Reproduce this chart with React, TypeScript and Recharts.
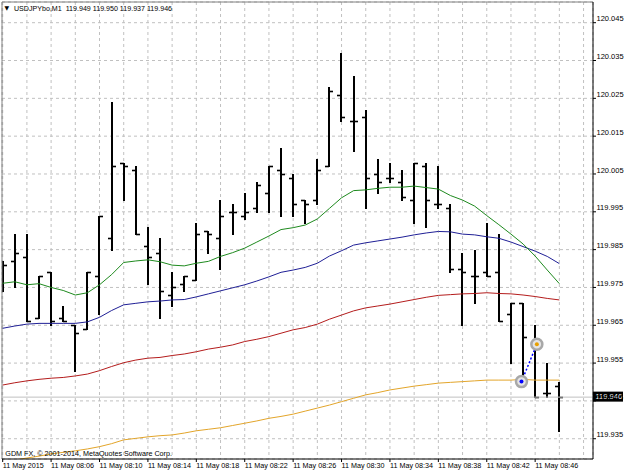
import React from 'react';
import {
  ComposedChart,
  Bar,
  Line,
  XAxis,
  YAxis,
  CartesianGrid,
  ReferenceLine,
  ReferenceDot,
} from 'recharts';

// ---------- DATA ----------
const symbolTitle = 'USDJPYbo,M1';
const lastQuote = '119.949 119.950 119.937 119.946';
const footerText = 'GDM FX, \u00A9 2001-2014, MetaQuotes Software Corp.';

// minute bars 08:02 ... 08:48 (index 0..46)
const barIndex = [
  0, 1, 2, 3, 4, 5, 6, 7, 8, 9, 10, 11, 12, 13, 14, 15, 16, 17, 18, 19, 20, 21, 22, 23,
  24, 25, 26, 27, 28, 29, 30, 31, 32, 33, 34, 35, 36, 37, 38, 39, 40, 41, 42, 43, 44, 45, 46,
];

const opens = [
  119.978, 119.982, 119.983, 119.967, 119.979, 119.967, 119.965, 119.964, 119.978, 119.988,
  120.008, 120.006, 119.986, 119.984, 119.973, 119.976, 119.977, 119.990, 119.988, 119.995,
  119.994, 119.996, 120.000, 120.006, 120.004, 119.998, 119.998, 120.007, 120.026, 120.019,
  120.020, 120.005, 120.004, 120.003, 119.998, 120.007, 119.997, 119.996, 119.980, 119.978,
  119.979, 119.979, 119.968, 119.971, 119.960, 119.947, 119.949,
];
const highs = [
  119.982, 119.989, 119.989, 119.978, 119.979, 119.970, 119.965, 119.979, 119.994, 120.024,
  120.008, 120.007, 119.991, 119.988, 119.979, 119.978, 119.992, 119.990, 119.998, 119.997,
  120.000, 120.003, 120.007, 120.012, 120.005, 119.998, 120.009, 120.028, 120.037, 120.031,
  120.022, 120.009, 120.008, 120.006, 120.008, 120.008, 120.007, 119.997, 119.984, 119.985,
  119.992, 119.989, 119.971, 119.971, 119.965, 119.955, 119.950,
];
const lows = [
  119.974, 119.975, 119.966, 119.967, 119.965, 119.966, 119.953, 119.964, 119.968, 119.985,
  119.998, 119.989, 119.976, 119.967, 119.970, 119.974, 119.977, 119.984, 119.980, 119.989,
  119.993, 119.995, 119.995, 119.994, 119.994, 119.992, 119.997, 120.007, 120.019, 120.011,
  119.996, 120.000, 120.003, 119.998, 119.992, 119.991, 119.996, 119.979, 119.965, 119.971,
  119.978, 119.966, 119.955, 119.950, 119.946, 119.946, 119.937,
];
const closes = [
  119.981, 119.984, 119.966, 119.978, 119.966, 119.966, 119.963, 119.979, 119.994, 120.007,
  120.007, 119.989, 119.983, 119.974, 119.975, 119.978, 119.989, 119.989, 119.994, 119.995,
  119.995, 120.002, 120.007, 120.005, 119.997, 119.997, 120.006, 120.027, 120.020, 120.019,
  120.004, 120.003, 120.004, 119.999, 120.008, 119.998, 119.997, 119.980, 119.979, 119.978,
  119.978, 119.966, 119.971, 119.962, 119.946, 119.947, 119.946,
];

// moving averages
const maGreen = [
  119.9761, 119.9765, 119.9757, 119.976, 119.975, 119.9742, 119.973, 119.9736, 119.9757, 119.9784,
  119.9816, 119.982, 119.9823, 119.9818, 119.9809, 119.9807, 119.9814, 119.9819, 119.9832, 119.9842,
  119.9854, 119.987, 119.9886, 119.9903, 119.9908, 119.9915, 119.9931, 119.9959, 119.9987, 120.0006,
  120.0008, 120.0012, 120.0015, 120.0015, 120.0018, 120.0014, 120.001, 119.9993, 119.9981, 119.9965,
  119.994, 119.9916, 119.9891, 119.9865, 119.9833, 119.9796, 119.976,
];
const maBlue = [
  119.9642, 119.9648, 119.9653, 119.9655, 119.9655, 119.9655, 119.9655, 119.9659, 119.9671, 119.9689,
  119.9704, 119.9708, 119.9712, 119.9714, 119.9717, 119.9718, 119.9725, 119.9733, 119.9741, 119.9749,
  119.9757, 119.9767, 119.9778, 119.979, 119.9796, 119.9803, 119.9814, 119.9833, 119.9847, 119.9862,
  119.9868, 119.9873, 119.9878, 119.9883, 119.9889, 119.9894, 119.9898, 119.9897, 119.9891, 119.9889,
  119.9884, 119.988, 119.987, 119.9858, 119.9846, 119.9832, 119.9813,
];
const maRed = [
  119.9492, 119.9498, 119.9503, 119.9507, 119.951, 119.9512, 119.9516, 119.9521, 119.953, 119.9541,
  119.9551, 119.9558, 119.9563, 119.9565, 119.957, 119.9574, 119.958, 119.9587, 119.9592, 119.9598,
  119.9607, 119.9613, 119.962, 119.9629, 119.9638, 119.9644, 119.9653, 119.9666, 119.9677, 119.9688,
  119.9696, 119.9701, 119.9706, 119.9712, 119.9718, 119.9724, 119.9729, 119.9731, 119.9733, 119.9734,
  119.9736, 119.9734, 119.9733, 119.973, 119.9726, 119.9721, 119.9717,
];
const maOrange = [
  119.9289, 119.9294, 119.9299, 119.9304, 119.931, 119.9314, 119.9318, 119.9323, 119.9329, 119.9337,
  119.9347, 119.9351, 119.9355, 119.9358, 119.936, 119.9365, 119.9371, 119.9375, 119.9379, 119.9385,
  119.9391, 119.9397, 119.9404, 119.9409, 119.9415, 119.9423, 119.9431, 119.9439, 119.9448, 119.9457,
  119.9466, 119.9472, 119.9479, 119.9484, 119.9489, 119.9493, 119.9497, 119.9499, 119.9501, 119.9503,
  119.9505, 119.9505, 119.9505, 119.9507, 119.9505, 119.9505, 119.9505,
];

// axis ticks
const gridBars = [0, 2, 4, 6, 8, 10, 12, 14, 16, 18, 20, 22, 24, 26, 28, 30, 32, 34, 36, 38, 40, 42, 44, 46, 48];
const labelBars = [0, 4, 8, 12, 16, 20, 24, 28, 32, 36, 40, 44];
const labelTexts = [
  '11 May 2015', '11 May 08:06', '11 May 08:10', '11 May 08:14', '11 May 08:18', '11 May 08:22',
  '11 May 08:26', '11 May 08:30', '11 May 08:34', '11 May 08:38', '11 May 08:42', '11 May 08:46',
];
const priceTicks = [
  119.935, 119.945, 119.955, 119.965, 119.975, 119.985, 119.995, 120.005, 120.015, 120.025, 120.035, 120.045,
];
const xDomain = [-0.058, 48.78];
const yDomain = [119.92964, 120.05047];
const bidPrice = 119.946;
const tradeOpen = { bar: 42.87, price: 119.9501 };
const tradeClose = { bar: 44.14, price: 119.96 };

const data = barIndex.map((b, i) => ({
  bar: b,
  open: opens[i],
  high: highs[i],
  low: lows[i],
  close: closes[i],
  maGreen: maGreen[i],
  maBlue: maBlue[i],
  maRed: maRed[i],
  maOrange: maOrange[i],
}));

const FONT = '"Liberation Sans", Arial, sans-serif';

const OhlcShape = (props: any) => {
  const { x, y, width, height, payload } = props;
  if (x == null || y == null) return <g />;
  const top = Math.min(y, y + height);
  const bottom = Math.max(y, y + height);
  const cx = Math.round(x + width / 2);
  const range = payload.high - payload.low;
  const yOf = (v: number) => (range === 0 ? top : top + ((payload.high - v) / range) * (bottom - top));
  const yo = Math.round(yOf(payload.open)) + 0.5;
  const yc = Math.round(yOf(payload.close)) + 0.5;
  return (
    <g>
      <line x1={cx} x2={cx} y1={Math.round(top)} y2={Math.round(bottom) + 1} stroke="#000" strokeWidth={2} />
      <line x1={cx - 4} x2={cx} y1={yo} y2={yo} stroke="#000" strokeWidth={1.6} />
      <line x1={cx} x2={cx + 4} y1={yc} y2={yc} stroke="#000" strokeWidth={1.6} />
    </g>
  );
};

const YTick = (props: any) => {
  const { x, y, payload } = props;
  return (
    <g>
      <line x1={593} x2={596} y1={y} y2={y} stroke="#000" />
      <text x={x + 0.5} y={y - 1.4} fontSize={7.5} fontFamily={FONT} fill="#000" textAnchor="start">
        {Number(payload.value).toFixed(3)}
      </text>
    </g>
  );
};

const XTick = (props: any) => {
  const { x, y, payload } = props;
  const idx = labelBars.indexOf(payload.value);
  if (idx < 0) return <g />;
  return (
    <g>
      <line x1={x} x2={x} y1={y} y2={y + 3} stroke="#000" />
      <text x={x} y={y + 9.4} fontSize={7.2} fontFamily={FONT} fill="#000" textAnchor="start">
        {labelTexts[idx]}
      </text>
    </g>
  );
};

const BidLabel = (props: any) => {
  const vb = props.viewBox || {};
  const right = (vb.x || 0) + (vb.width || 0);
  const yy = vb.y || 0;
  return (
    <g>
      <rect x={right} y={yy - 5.5} width={30} height={10} fill="#000" />
      <text x={right + 2.5} y={yy + 2.2} fontSize={7.5} fontFamily={FONT} fill="#fff" textAnchor="start">
        {bidPrice.toFixed(3)}
      </text>
    </g>
  );
};

export default function App() {
  return (
    <div style={{ position: 'absolute', left: 0, top: 0, width: 625, height: 472, background: '#fff' }}>
      <ComposedChart
        width={625}
        height={472}
        data={data}
        margin={{ top: 2, right: 0, bottom: 0, left: 2 }}
        style={{ background: '#fff' }}
      >
        <CartesianGrid stroke="#c0c0c0" strokeDasharray="3 3" />
        <XAxis
          dataKey="bar"
          type="number"
          domain={xDomain}
          allowDataOverflow
          ticks={gridBars}
          interval={0}
          height={13}
          tickSize={0}
          tickMargin={0}
          tickLine={false}
          axisLine={{ stroke: '#000' }}
          tick={<XTick />}
        />
        <YAxis
          orientation="right"
          type="number"
          domain={yDomain}
          allowDataOverflow
          ticks={priceTicks}
          interval={0}
          width={32}
          tickSize={3}
          tickMargin={0}
          tickLine={false}
          axisLine={{ stroke: '#000' }}
          tick={<YTick />}
        />
        <ReferenceLine x={xDomain[0]} stroke="#808080" ifOverflow="visible" />
        <ReferenceLine y={yDomain[1]} stroke="#808080" ifOverflow="visible" />
        <ReferenceLine y={bidPrice} stroke="#c0c0c0" ifOverflow="visible" label={<BidLabel />} />
        <Line type="linear" dataKey="maOrange" stroke="#e3a52a" strokeWidth={1} dot={false} isAnimationActive={false} />
        <Line type="linear" dataKey="maRed" stroke="#b41c1c" strokeWidth={1} dot={false} isAnimationActive={false} />
        <Line type="linear" dataKey="maBlue" stroke="#1f1f96" strokeWidth={1} dot={false} isAnimationActive={false} />
        <Line type="linear" dataKey="maGreen" stroke="#1e8a1e" strokeWidth={1} dot={false} isAnimationActive={false} />
        <Bar
          dataKey={(d: any) => [d.low, d.high]}
          barSize={8}
          shape={<OhlcShape />}
          isAnimationActive={false}
        />
        <ReferenceDot x={tradeOpen.bar} y={tradeOpen.price} r={5.5} fill="#e4e4e4" stroke="#a8a8a8" strokeWidth={2.5} ifOverflow="visible" />
        <ReferenceDot x={tradeClose.bar} y={tradeClose.price} r={5.5} fill="#e4e4e4" stroke="#a8a8a8" strokeWidth={2.5} ifOverflow="visible" />
        <ReferenceLine
          segment={[
            { x: tradeOpen.bar, y: tradeOpen.price },
            { x: tradeClose.bar, y: tradeClose.price },
          ]}
          stroke="#0000ff"
          strokeWidth={1.5}
          strokeDasharray="2 2"
          ifOverflow="visible"
        />
        <ReferenceDot x={tradeOpen.bar} y={tradeOpen.price} r={2} fill="#0000ff" stroke="none" ifOverflow="visible" />
        <ReferenceDot x={tradeClose.bar} y={tradeClose.price} r={2} fill="#e8a000" stroke="none" ifOverflow="visible" />
      </ComposedChart>
      <svg width={625} height={472} style={{ position: 'absolute', left: 0, top: 0, pointerEvents: 'none' }}>
        <text x={4.5} y={10.3} fontSize={6} fontFamily='"DejaVu Sans", sans-serif' fill="#000">{'\u25BC'}</text>
        <text x={14} y={10.5} fontSize={7.1} fontFamily={FONT} fill="#000">{symbolTitle}</text>
        <text x={65.7} y={10.5} fontSize={7.1} fontFamily={FONT} fill="#000">{lastQuote}</text>
        <text x={5.3} y={455.8} fontSize={7.2} fontFamily={FONT} fill="#000">{footerText}</text>
      </svg>
    </div>
  );
}
